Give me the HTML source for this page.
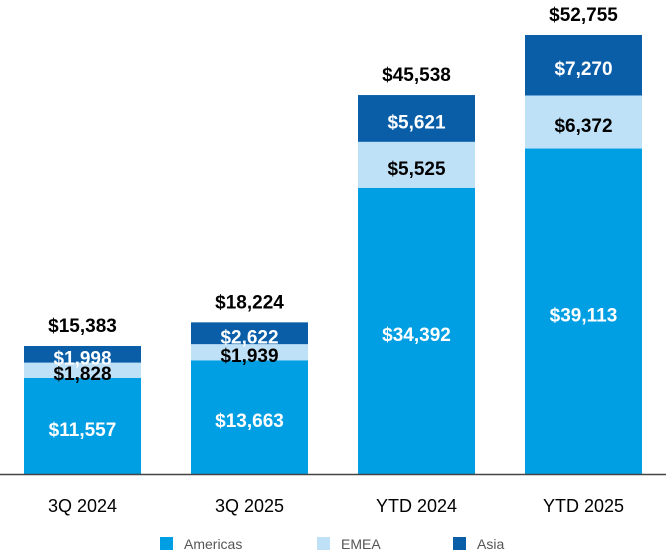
<!DOCTYPE html>
<html><head><meta charset="utf-8"><style>
body{margin:0;background:#fff;}
svg{display:block;font-family:"Liberation Sans",Arial,sans-serif;}
</style></head><body>
<svg id="chart" width="666" height="556"></svg>
<script>
const categories=["3Q 2024","3Q 2025","YTD 2024","YTD 2025"];
const americas=[11557,13663,34392,39113];
const emea=[1828,1939,5525,6372];
const asia=[1998,2622,5621,7270];
const totals=[15383,18224,45538,52755];
const seriesNames=["Americas","EMEA","Asia"];

const NS="http://www.w3.org/2000/svg";
const svg=document.getElementById('chart');
const base=474, maxV=52755, topY=35;
const y=v=>base-v*(base-topY)/maxV;
const barW=117;
const xOf=i=>24+i*167;
const colors=["#009fe3","#bfe1f7","#0a5ea8"];
const textCol=["#fff","#000","#fff"];
const fmt=v=>"$"+v.toLocaleString("en-US");
function el(t,a){const e=document.createElementNS(NS,t);for(const k in a)e.setAttribute(k,a[k]);svg.appendChild(e);return e;}
const series=[americas,emea,asia];
categories.forEach((c,i)=>{
  let acc=0;
  series.forEach((s,j)=>{
    const y0=y(acc),y1=y(acc+s[i]);
    const r=el('rect',{x:xOf(i),y:y1,width:barW,height:y0-y1,fill:colors[j]});
    
    
    const t=el('text',{x:xOf(i)+barW/2,y:(y0+y1)/2+10,'text-anchor':'middle','font-size':19,'font-weight':'bold',fill:textCol[j]});
    t.textContent=fmt(s[i]);
    
    
    acc+=s[i];
  });
  const tt=el('text',{x:xOf(i)+barW/2,y:y(totals[i])-14,'text-anchor':'middle','font-size':19,'font-weight':'bold',fill:'#000'});
  tt.textContent=fmt(totals[i]);
  
  
  const cl=el('text',{x:xOf(i)+barW/2,y:512,'text-anchor':'middle','font-size':18,fill:'#000'});
  cl.textContent=c;
  
  
});
const ax=el('line',{x1:0,x2:666,y1:base+0.5,y2:base+0.5,stroke:'#444','stroke-width':1.5});


const legX=[160,317,453];
seriesNames.forEach((n,j)=>{
  const r=el('rect',{x:legX[j],y:537,width:13,height:13,fill:colors[j]});
  
  
  const t=el('text',{x:legX[j]+24,y:549,'font-size':14,fill:'#555'});
  t.textContent=n;
  
  
});
</script>
</body></html>
